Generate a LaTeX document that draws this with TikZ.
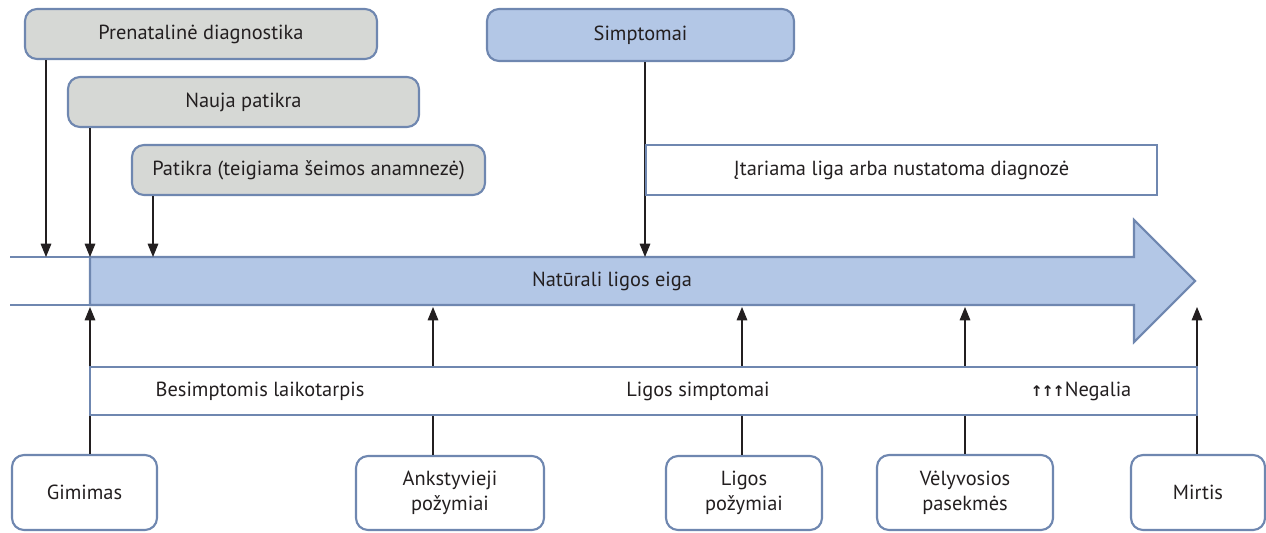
\documentclass[tikz,border=0pt]{standalone}
\usepackage{fontspec}
\setmainfont{PT Sans}
\newfontfamily\symfont{DejaVu Sans}
\usetikzlibrary{arrows.meta,fit}
\definecolor{bord}{HTML}{6F87B0}
\definecolor{grayfill}{HTML}{D6D8D5}
\definecolor{bluefill}{HTML}{B3C7E6}
\definecolor{ink}{HTML}{231F20}
\tikzset{
  base/.style={draw=bord, line width=1.6pt, inner sep=0pt, text=ink},
  graybox/.style={base, fill=grayfill, rounded corners=9pt},
  bluebox/.style={base, fill=bluefill, rounded corners=9pt},
  whitebox/.style={base, fill=white, rounded corners=9pt},
  flatbox/.style={base, fill=white},
  lbl/.style={text=ink, font=\fontsize{15.3}{18.5}\selectfont, inner sep=0pt, align=center},
  arr/.style={draw=ink, line width=0.8pt, -{Triangle[length=10pt,width=8pt]}},
}
\begin{document}
\begin{tikzpicture}[x=0.75pt,y=-0.75pt]
\useasboundingbox (0,0) rectangle (1266,532);
% band
\draw[draw=bord, line width=1.6pt, fill=bluefill]
  (90,257) -- (1134,257) -- (1134,220) -- (1195,281) -- (1134,342) -- (1134,305) -- (90,305) -- cycle;
\draw[draw=bord, line width=1.6pt] (10,257) -- (90,257) (10,305) -- (90,305);
\node[lbl] (band) at (612,281) {Natūrali ligos eiga};
% top boxes
\node[graybox, fit={(25,9)(377,59)}] (pre) {};
\node[lbl] at (pre.center) {Prenatalinė diagnostika};
\node[graybox, fit={(68,77)(419,127)}] (nau) {};
\node[lbl] at (nau.center) {Nauja patikra};
\node[graybox, fit={(132,145)(485,195)}] (pat) {};
\node[lbl] at (pat.center) {Patikra (teigiama šeimos anamnezė)};
\node[bluebox, fit={(487,9)(794,61)}] (sim) {};
\node[lbl] at (sim.center) {Simptomai};
% down arrows targets
\coordinate (d1) at (46,257);
\coordinate (d2) at (90,257);
\coordinate (d3) at (153,257);
\coordinate (d4) at (645,257);
\draw[arr] (d1 |- pre.south) -- (d1);
\draw[arr] (d2 |- nau.south) -- (d2);
\draw[arr] (d3 |- pat.south) -- (d3);
\draw[arr] (d4 |- sim.south) -- (d4);
\node[flatbox, fit={(646,145)(1157,195)}] (ita) {};
\node[lbl] at (ita.center) {Įtariama liga arba nustatoma diagnozė};
% bottom boxes
\node[whitebox, fit={(12,455)(157,530)}] (gim) {};
\node[lbl] at (gim.center) {Gimimas};
\node[whitebox, fit={(356,456)(544,530)}] (ank) {};
\node[lbl] at (ank.center) {Ankstyvieji\\požymiai};
\node[whitebox, fit={(666,456)(822,530)}] (lig) {};
\node[lbl] at (lig.center) {Ligos\\požymiai};
\node[whitebox, fit={(877,455)(1053,530)}] (vel) {};
\node[lbl] at (vel.center) {Vėlyvosios\\pasekmės};
\node[whitebox, fit={(1131,455)(1265,530)}] (mir) {};
\node[lbl] at (mir.center) {Mirtis};
% up arrows
\coordinate (u1) at (90,307);
\coordinate (u2) at (433,307);
\coordinate (u3) at (742,307);
\coordinate (u4) at (965,307);
\coordinate (u5) at (1197,307);
\draw[arr] (u1 |- gim.north) -- (u1);
\draw[arr] (u2 |- ank.north) -- (u2);
\draw[arr] (u3 |- lig.north) -- (u3);
\draw[arr] (u4 |- vel.north) -- (u4);
\draw[arr] (u5 |- mir.north) -- (u5);
% lower bar
\node[flatbox, fit={(90,367)(1197,415)}] (bar) {};
\node[lbl] at (260,391) {Besimptomis laikotarpis};
\node[lbl] at (698,391) {Ligos simptomai};
\node[lbl] at (1081,391) {{\symfont\bfseries\fontsize{11}{12}\selectfont ↑\kern-1pt↑\kern-1pt↑}Negalia};
\end{tikzpicture}
\end{document}
